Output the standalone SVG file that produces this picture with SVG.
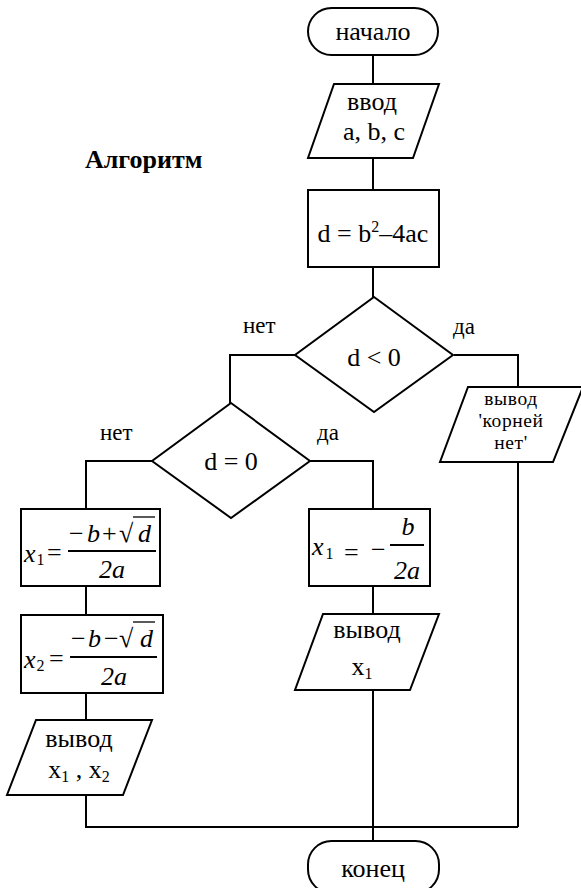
<svg xmlns="http://www.w3.org/2000/svg" width="581" height="888" viewBox="0 0 581 888">
<style>
.s{fill:#fff;stroke:#000;stroke-width:2}
.c{fill:none;stroke:#000;stroke-width:2}
.o{fill:none;stroke:#000;stroke-width:1.3}
text{font-family:'Liberation Serif','Times New Roman',serif;font-size:26px;fill:#000}
.m{text-anchor:middle}
.i{font-style:italic}
.b{font-weight:bold}
.l{font-size:23px}
.sub{font-size:16px}
.r{font-size:19.5px;letter-spacing:0.6px}
</style>
<rect width="581" height="888" fill="#fff"/>
<g id="connectors">
<polyline class="c" points="373,55 373,84"/>
<polyline class="c" points="373,158 373,190"/>
<polyline class="c" points="373,267 373,297"/>
<polyline class="c" points="295,355 230,355 230,403"/>
<polyline class="c" points="454,355 518,355 518,387"/>
<polyline class="c" points="518,462 518,827"/>
<polyline class="c" points="152,461 86,461 86,509"/>
<polyline class="c" points="310,461 373,461 373,509"/>
<polyline class="c" points="86,586 86,615"/>
<polyline class="c" points="86,693 86,720"/>
<polyline class="c" points="86,795 86,827 518,827"/>
<polyline class="c" points="373,586 373,614"/>
<polyline class="c" points="373,690 373,841"/>
</g>
<g id="title"><text class="b" x="85" y="168">Алгоритм</text></g>
<g id="start">
<rect class="s" x="308" y="8" width="130" height="47" rx="23.5"/>
<text class="m" x="373" y="40">начало</text>
</g>
<g id="input">
<polygon class="s" points="334,84 439,84 413,158 308,158"/>
<text class="m" x="372" y="110">ввод</text>
<text class="m" x="374" y="140">a, b, c</text>
</g>
<g id="calc-d">
<rect class="s" x="308" y="190" width="131" height="77"/>
<text class="m" x="373" y="242">d = b<tspan dy="-10" font-size="16">2</tspan><tspan dy="10">–4ac</tspan></text>
</g>
<g id="cond1">
<polygon class="s" points="374,297 453,355 374,412 295,355"/>
<text class="m" x="374" y="366">d &lt; 0</text>
<text class="l" x="243" y="333">нет</text>
<text class="l" x="453" y="334">да</text>
</g>
<g id="out-none">
<polygon class="s" points="468,387 583,387 553,462 440,462"/>
<text class="m r" x="511" y="405">вывод</text>
<text class="m r" x="511" y="427">'корней</text>
<text class="m r" x="511" y="449">нет'</text>
</g>
<g id="cond2">
<polygon class="s" points="231,403 310,461 231,518 152,461"/>
<text class="m" x="231" y="470">d = 0</text>
<text class="l" x="100" y="440">нет</text>
<text class="l" x="317" y="440">да</text>
</g>
<g id="calc-x1">
<rect class="s" x="21" y="509" width="139" height="77"/>
<text class="i" x="24" y="562">x<tspan class="sub" font-style="normal" dx="1" dy="3">1</tspan></text>
<text x="47" y="561" font-size="28">=</text>
<line class="c" x1="68" y1="551" x2="156" y2="551"/>
<text x="69" y="542">−</text>
<text class="i" x="87" y="542">b</text>
<text x="102" y="542">+</text>
<text x="119" y="542" font-size="28">√</text>
<line class="o" x1="133" y1="517" x2="155" y2="517"/>
<text class="i" x="138" y="542">d</text>
<text class="i m" x="112" y="578">2a</text>
</g>
<g id="calc-x2">
<rect class="s" x="21" y="615" width="142" height="78"/>
<text class="i" x="24" y="668">x<tspan class="sub" font-style="normal" dx="1" dy="3">2</tspan></text>
<text x="49" y="667" font-size="28">=</text>
<line class="c" x1="70" y1="657" x2="157" y2="657"/>
<text x="71" y="647">−</text>
<text class="i" x="88" y="647">b</text>
<text x="104" y="647">−</text>
<text x="119" y="647" font-size="28">√</text>
<line class="o" x1="133" y1="622" x2="155" y2="622"/>
<text class="i" x="140" y="647">d</text>
<text class="i m" x="114" y="685">2a</text>
</g>
<g id="out-x1x2">
<polygon class="s" points="36,720 152,720 123,795 7,795"/>
<text class="m" x="79" y="747">вывод</text>
<text class="m" x="79" y="778">x<tspan class="sub" dy="4">1</tspan><tspan dy="-4"> , x</tspan><tspan class="sub" dy="4">2</tspan></text>
</g>
<g id="calc-x1-single">
<rect class="s" x="309" y="509" width="121" height="77"/>
<text class="i" x="312" y="555">x<tspan class="sub" font-style="normal" dx="2" dy="4">1</tspan></text>
<text x="344" y="561" font-size="30">=</text>
<text x="371" y="558">−</text>
<line class="c" x1="390" y1="545" x2="424" y2="545"/>
<text class="i m" x="408" y="535">b</text>
<text class="i m" x="407" y="579">2a</text>
</g>
<g id="out-x1">
<polygon class="s" points="323,614 439,614 410,690 295,690"/>
<text class="m" x="367" y="638">вывод</text>
<text class="m" x="362" y="675">x<tspan class="sub" dy="4">1</tspan></text>
</g>
<g id="end">
<rect class="s" x="308" y="841" width="131" height="52" rx="23.5"/>
<text class="m" x="373" y="877">конец</text>
</g>
</svg>
